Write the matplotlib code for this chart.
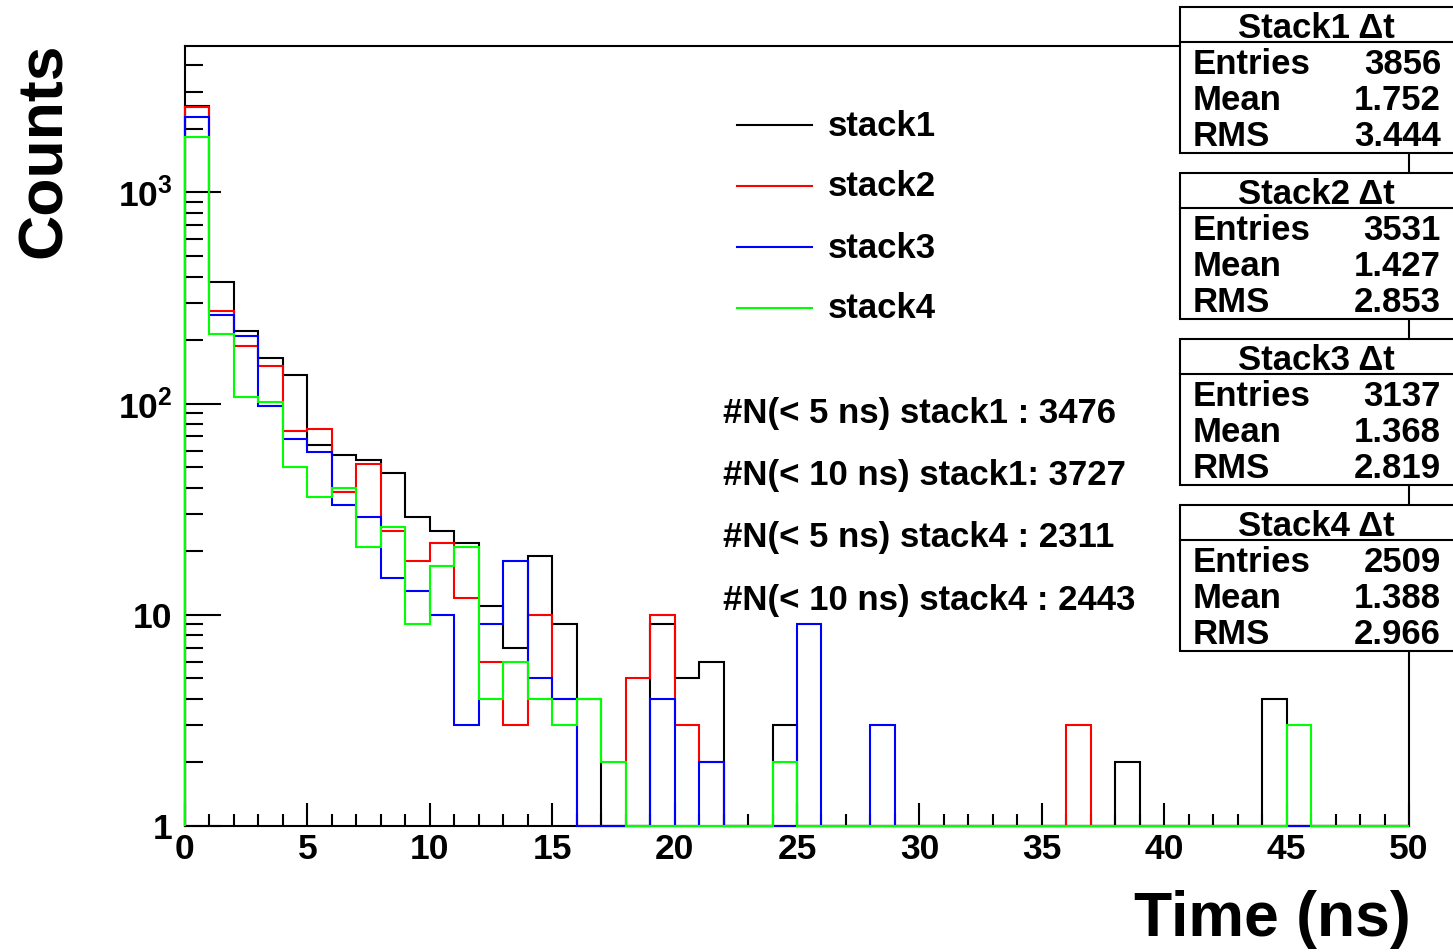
import numpy as np
import matplotlib.pyplot as plt
from matplotlib.lines import Line2D
from matplotlib.patches import Rectangle
from matplotlib.ticker import FixedLocator, FixedFormatter, MultipleLocator, NullFormatter

# ROOT 风格: Helvetica 粗体 -> Liberation Sans bold
plt.rcParams['font.family'] = ['Liberation Sans', 'DejaVu Sans']
plt.rcParams['font.weight'] = 'bold'
plt.rcParams['mathtext.fontset'] = 'custom'
plt.rcParams['mathtext.rm'] = 'Liberation Sans:bold'
plt.rcParams['mathtext.it'] = 'Liberation Sans:bold'
plt.rcParams['mathtext.bf'] = 'Liberation Sans:bold'

# ---- 数据 (每 1 ns 一个 bin, 0-50 ns) ----
bin_edges = list(range(51))

stack1 = [2580, 375, 220, 165, 136, 64, 57, 54, 47, 29,
          25, 22, 11, 7, 19, 9, 4, 0, 0, 9,
          5, 6, 0, 0, 3, 0, 0, 0, 0, 0,
          0, 0, 0, 0, 0, 0, 0, 0, 2, 0,
          0, 0, 0, 0, 4, 0, 0, 0, 0, 0]
stack2 = [2553, 275, 188, 150, 74, 76, 38, 52, 25, 18,
          22, 12, 6, 3, 10, 4, 0, 0, 5, 10,
          3, 2, 0, 0, 0, 0, 0, 0, 0, 0,
          0, 0, 0, 0, 0, 0, 3, 0, 0, 0,
          0, 0, 0, 0, 0, 0, 0, 0, 0, 0]
stack3 = [2283, 263, 209, 98, 68, 59, 33, 29, 15, 13,
          10, 3, 9, 18, 5, 4, 0, 0, 0, 4,
          0, 2, 0, 0, 0, 9, 0, 0, 3, 0,
          0, 0, 0, 0, 0, 0, 0, 0, 0, 0,
          0, 0, 0, 0, 0, 0, 0, 0, 0, 0]
stack4 = [1838, 214, 107, 102, 50, 36, 40, 21, 26, 9,
          17, 21, 4, 6, 4, 3, 4, 2, 0, 0,
          0, 0, 0, 0, 2, 0, 0, 0, 0, 0,
          0, 0, 0, 0, 0, 0, 0, 0, 0, 0,
          0, 0, 0, 0, 0, 3, 0, 0, 0, 0]

series_names = ['stack1', 'stack2', 'stack3', 'stack4']
series_colors = ['black', '#ff0000', '#0000ff', '#00ff00']

stat_titles = ['Stack1 Δt', 'Stack2 Δt', 'Stack3 Δt', 'Stack4 Δt']
stat_entries = ['3856', '3531', '3137', '2509']
stat_means = ['1.752', '1.427', '1.368', '1.388']
stat_rms = ['3.444', '2.853', '2.819', '2.966']

count_texts = ['#N(< 5 ns) stack1 : 3476',
               '#N(< 10 ns) stack1: 3727',
               '#N(< 5 ns) stack4 : 2311',
               '#N(< 10 ns) stack4 : 2443']

y_ticks = [1, 10, 100, 1000]
y_ticklabels = ['1', '10', r'$10^{2}$', r'$10^{3}$']
y_min, y_max = 1, 4940

W, H = 1453, 952


def fx(px):
    return px / W


def fy(py):
    return 1 - py / H


fig = plt.figure(figsize=(W / 100, H / 100), dpi=100)
ax = fig.add_axes([fx(185), fy(826), (1409 - 185) / W, (826 - 46) / H])

# 画直方图 (0 的 bin 画在下边框上, 和 ROOT 一样)
for i, (vals, col) in enumerate(zip([stack1, stack2, stack3, stack4], series_colors)):
    v = np.maximum(np.array(vals, dtype=float), y_min)
    ax.stairs(v, bin_edges, baseline=y_min, color=col, lw=1.5,
              zorder=3 + i, clip_on=False)

ax.set_yscale('log')
ax.set_xlim(0, 50)
ax.set_ylim(y_min, y_max)

ax.xaxis.set_major_locator(MultipleLocator(5))
ax.xaxis.set_minor_locator(MultipleLocator(1))
ax.yaxis.set_major_locator(FixedLocator(y_ticks))
ax.yaxis.set_major_formatter(FixedFormatter(y_ticklabels))
minor_y = [m * 10 ** e for e in range(0, 4) for m in range(2, 10) if m * 10 ** e < y_max]
ax.yaxis.set_minor_locator(FixedLocator(minor_y))
ax.yaxis.set_minor_formatter(NullFormatter())

ax.tick_params(axis='both', which='both', direction='in', top=False, right=False,
               labelsize=25.5, width=1.5, color='black')
ax.tick_params(axis='x', which='major', length=16.5, pad=5)
ax.tick_params(axis='x', which='minor', length=8.5)
ax.tick_params(axis='y', which='major', length=26, pad=9)
ax.tick_params(axis='y', which='minor', length=13)
for lab in ax.get_xticklabels() + ax.get_yticklabels():
    lab.set_fontweight('bold')
for sp in ax.spines.values():
    sp.set_linewidth(1.5)

# 坐标轴标题
fig.text(fx(15), fy(43), 'Counts', rotation=90, ha='left', va='top',
         fontsize=45, fontweight='bold')
fig.text(fx(1411), fy(936), 'Time (ns)', ha='right', va='baseline',
         fontsize=45, fontweight='bold')

# 图例
legend_rows = [125, 186, 247, 308]
for name, col, yy in zip(series_names, series_colors, legend_rows):
    fig.add_artist(Line2D([fx(737), fx(812)], [fy(yy), fy(yy)], color=col, lw=1.5))
    fig.text(fx(828), fy(yy + 1), name, ha='left', va='center', fontsize=25,
             fontweight='bold')

# 计数文字
for txt, base in zip(count_texts, [423, 485, 547, 610]):
    fig.text(fx(723), fy(base), txt, ha='left', va='baseline', fontsize=25,
             fontweight='bold')

# 统计框 (右侧被画布裁掉)
for k in range(4):
    top = 7 + 166 * k
    fig.add_artist(Rectangle((fx(1180), fy(top + 146)), fx(320), 146 / H,
                             transform=fig.transFigure, facecolor='white',
                             edgecolor='black', lw=1.5, zorder=10))
    fig.add_artist(Line2D([fx(1180), fx(1500)], [fy(top + 35), fy(top + 35)],
                          color='black', lw=1.5, zorder=11))
    fig.text(fx(1316), fy(top + 31), stat_titles[k], ha='center', va='baseline',
             fontsize=25, fontweight='bold', zorder=12)
    rows = [('Entries', stat_entries[k]), ('Mean', stat_means[k]), ('RMS', stat_rms[k])]
    for (lab, val), dy in zip(rows, [67, 103, 139]):
        fig.text(fx(1193), fy(top + dy), lab, ha='left', va='baseline',
                 fontsize=25, fontweight='bold', zorder=12)
        fig.text(fx(1441), fy(top + dy), val, ha='right', va='baseline',
                 fontsize=25, fontweight='bold', zorder=12)

fig.savefig('out.png', dpi=100)
